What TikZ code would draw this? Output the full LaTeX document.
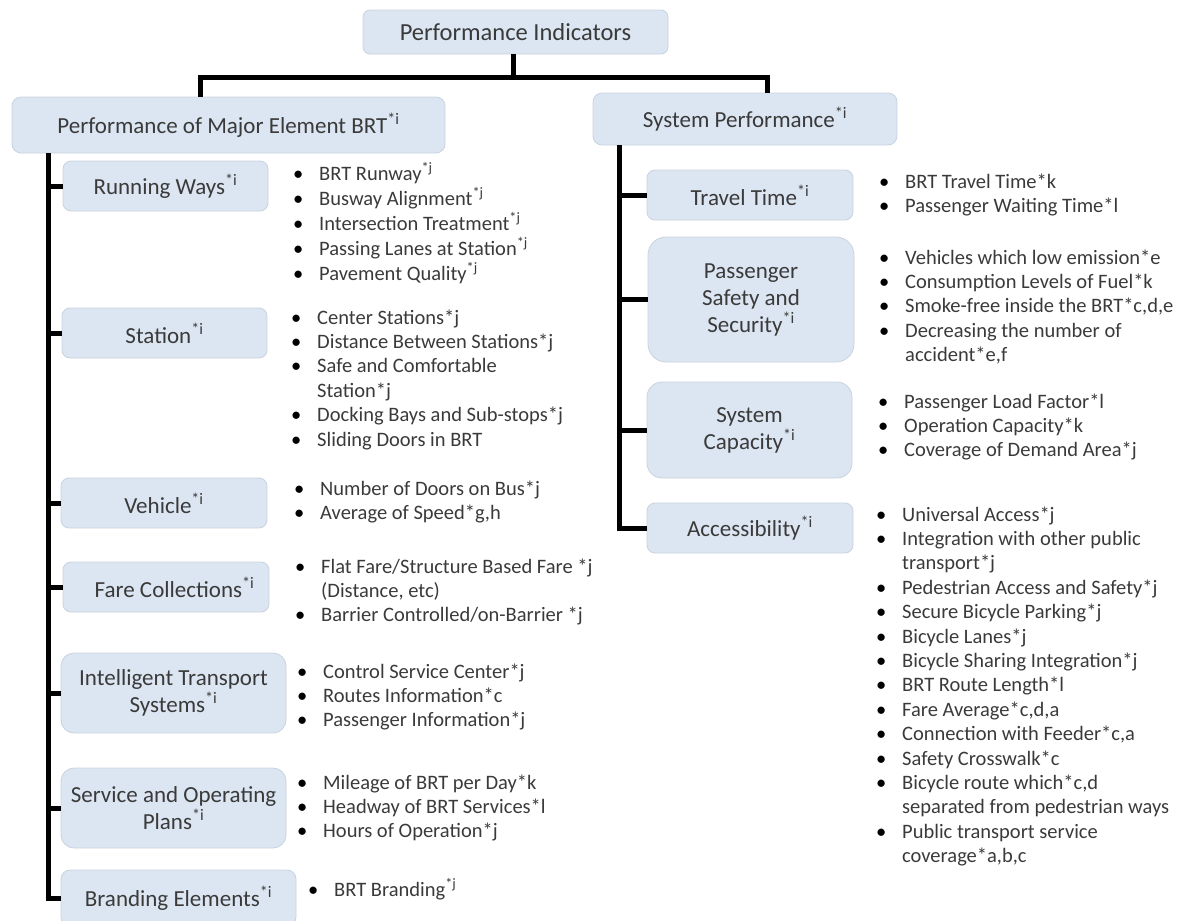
\documentclass[tikz,border=0pt]{standalone}
\usepackage{fontspec}
\setmainfont{Carlito}
\usepackage{xcolor}
\definecolor{boxfill}{HTML}{DCE6F2}
\definecolor{boxline}{HTML}{C9D3DF}
\definecolor{ink}{HTML}{3A3A3A}
\newcommand{\supi}{\textsuperscript{*i}}
\newcommand{\supj}{\textsuperscript{*j}}
\newcommand{\bul}{\textcolor{black}{\textbullet}}
\newcommand{\blist}[1]{\begin{tabular}[t]{@{}p{26pt}@{}l@{}}#1\end{tabular}}

\begin{document}
\begin{tikzpicture}[
  x=1pt,y=-1pt,
  box/.style={fill=boxfill,draw=boxline,line width=0.8pt,rounded corners=#1,
    text=ink,align=center,inner sep=0pt,
    font=\fontsize{23}{27}\selectfont},
  box/.default=8pt,
  list/.style={anchor=base west,inner sep=0pt,text=ink,
    font=\fontsize{20.5}{24.4}\selectfont},
  link/.style={line width=5pt,line join=miter}]

  \useasboundingbox (0,0) rectangle (1181,921);
  \clip (0,0) rectangle (1181,921);

  % top level
  \node[box=7pt,minimum width=305,minimum height=44,
    font=\fontsize{24.5}{28}\selectfont] (pi) at (515.5,32) {Performance Indicators};
  \node[box=9pt,minimum width=433,minimum height=56] (pme) at (228.5,125)
    {Performance of Major Element BRT\supi};
  \node[box=9pt,minimum width=304,minimum height=52] (sp) at (745,119)
    {System Performance\supi};

  % major elements
  \node[box,minimum width=205,minimum height=50] (rw) at (165.5,186) {Running Ways\supi};
  \node[box,minimum width=205,minimum height=50] (st) at (164.5,333) {Station\supi};
  \node[box,minimum width=206,minimum height=50] (ve) at (164,503) {Vehicle\supi};
  \node[box,minimum width=206,minimum height=50] (fc) at (166,587)
    {\hspace*{17pt}Fare Collections\supi};
  \node[box=13pt,minimum width=225,minimum height=80] (its) at (173.5,693)
    {Intelligent Transport\\Systems\supi};
  \node[box=13pt,minimum width=225,minimum height=80] (so) at (173.5,808)
    {Service and Operating\\Plans\supi};
  \node[box=9pt,minimum width=235,minimum height=56] (be) at (178.5,898)
    {Branding Elements\supi};

  % system performance
  \node[box,minimum width=206,minimum height=50] (tt) at (750,195) {Travel Time\supi};
  \node[box=18pt,minimum width=206,minimum height=125] (pss) at (751,299.5)
    {Passenger\\Safety and\\Security\supi};
  \node[box=15pt,minimum width=205,minimum height=96] (sc) at (749.5,430)
    {System\\Capacity\supi};
  \node[box,minimum width=206,minimum height=50] (ac) at (750,528) {Accessibility\supi};

  % connectors
  \coordinate (lj) at (200,77);
  \coordinate (mj) at (513,77);
  \coordinate (rj) at (767,77);
  \coordinate (lt) at (48,0);
  \coordinate (rt) at (619,0);
  \draw[link] (pi.south -| mj) -- (mj);
  \draw[link] (pme.north -| lj) -- (lj) -- (rj) -- (sp.north -| rj);
  \draw[link] (pme.south -| lt) |- (be.west);
  \foreach \b in {rw,st,ve,fc,its,so} \draw[link] (\b.west -| lt) -- (\b.west);
  \draw[link] (sp.south -| rt) |- (ac.west);
  \foreach \b in {tt,pss,sc} \draw[link] (\b.west -| rt) -- (\b.west);

  % indicator lists
  \node[list] (rwl) at (293,180) {\blist{%
    \bul & BRT Runway\supj\\
    \bul & Busway Alignment\supj\\
    \bul & Intersection Treatment\supj\\
    \bul & Passing Lanes at Station\supj\\
    \bul & Pavement Quality\supj}};
  \node[list] (stl) at (291,324) {\blist{%
    \bul & Center Stations*j\\
    \bul & Distance Between Stations*j\\
    \bul & Safe and Comfortable\\
         & Station*j\\
    \bul & Docking Bays and Sub-stops*j\\
    \bul & Sliding Doors in BRT}};
  \node[list] (vel) at (294,495) {\blist{%
    \bul & Number of Doors on Bus*j\\
    \bul & Average of Speed*g,h}};
  \node[list] (fcl) at (295,573) {\blist{%
    \bul & Flat Fare/Structure Based Fare *j\\
         & (Distance, etc)\\
    \bul & Barrier Controlled/on-Barrier *j}};
  \node[list] (itsl) at (297,678) {\blist{%
    \bul & Control Service Center*j\\
    \bul & Routes Information*c\\
    \bul & Passenger Information*j}};
  \node[list] (sol) at (297,789) {\blist{%
    \bul & Mileage of BRT per Day*k\\
    \bul & Headway of BRT Services*l\\
    \bul & Hours of Operation*j}};
  \node[list] (bel) at (308,896) {\blist{%
    \bul & BRT Branding\supj}};

  \node[list] (ttl) at (879,188) {\blist{%
    \bul & BRT Travel Time*k\\
    \bul & Passenger Waiting Time*l}};
  \node[list] (pssl) at (879,264) {\blist{%
    \bul & Vehicles which low emission*e\\
    \bul & Consumption Levels of Fuel*k\\
    \bul & Smoke-free inside the BRT*c,d,e\\
    \bul & Decreasing the number of\\
         & accident*e,f}};
  \node[list] (scl) at (878,408) {\blist{%
    \bul & Passenger Load Factor*l\\
    \bul & Operation Capacity*k\\
    \bul & Coverage of Demand Area*j}};
  \node[list] (acl) at (876,521) {\blist{%
    \bul & Universal Access*j\\
    \bul & Integration with other public\\
         & transport*j\\
    \bul & Pedestrian Access and Safety*j\\
    \bul & Secure Bicycle Parking*j\\
    \bul & Bicycle Lanes*j\\
    \bul & Bicycle Sharing Integration*j\\
    \bul & BRT Route Length*l\\
    \bul & Fare Average*c,d,a\\
    \bul & Connection with Feeder*c,a\\
    \bul & Safety Crosswalk*c\\
    \bul & Bicycle route which*c,d\\
         & separated from pedestrian ways\\
    \bul & Public transport service\\
         & coverage*a,b,c}};
\end{tikzpicture}
\end{document}
